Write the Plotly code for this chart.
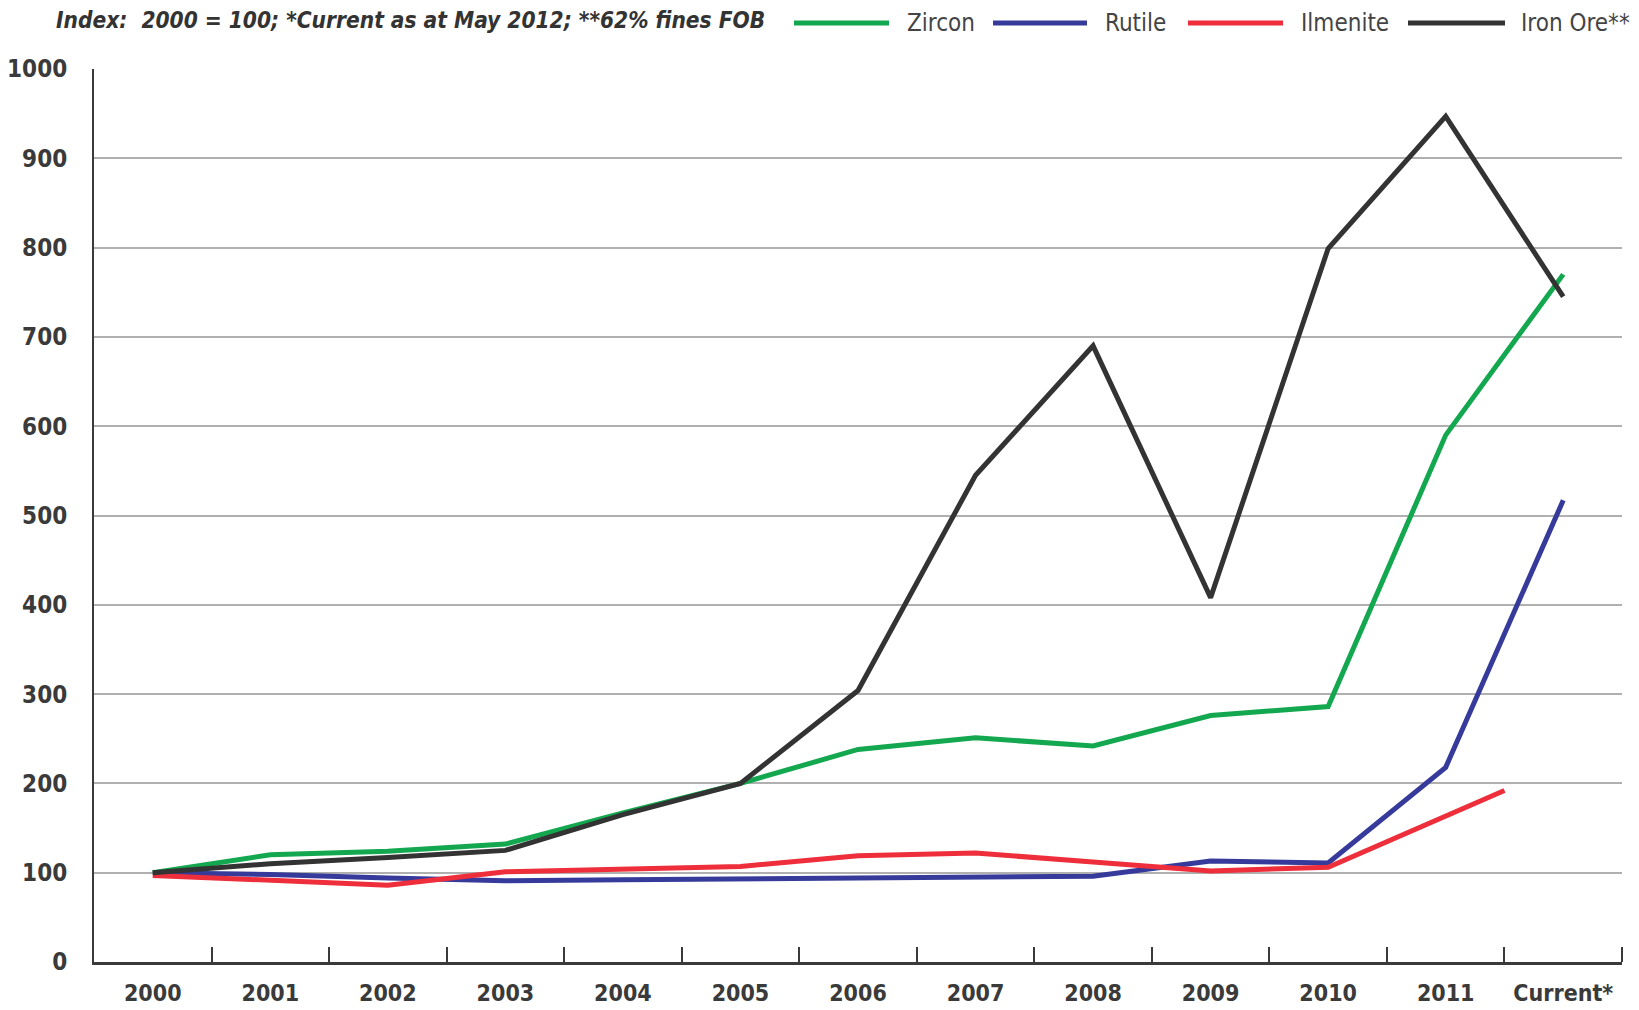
import plotly.graph_objects as go

categories = ["2000", "2001", "2002", "2003", "2004", "2005", "2006",
              "2007", "2008", "2009", "2010", "2011", "Current*"]
cat_pos = list(range(len(categories)))

zircon = [100, 120, 124, 132, 167, 200, 238, 251, 242, 276, 286, 590, 770]
rutile = [100, 98, 94, 91, 92, 93, 94, 95, 96, 113, 111, 218, 517]
ilmenite = [97, 91, 86, 101, 104, 107, 119, 122, 112, 102, 106, 164, 192]
ilmenite_x = [0, 1, 2, 3, 4, 5, 6, 7, 8, 9, 10, 11, 11.5]
iron_ore = [100, 110, 117, 125, 165, 200, 304, 545, 690, 408, 799, 947, 745]

y_ticks = [0, 100, 200, 300, 400, 500, 600, 700, 800, 900, 1000]

colors = {
    "Zircon": "#13A84F",
    "Rutile": "#363B9B",
    "Ilmenite": "#EE2E3A",
    "Iron Ore**": "#333333",
}

FONT = "DejaVu Sans Condensed, Liberation Sans, Arial, sans-serif"

fig = go.Figure()
series = [
    ("Rutile", cat_pos, rutile),
    ("Ilmenite", ilmenite_x, ilmenite),
    ("Zircon", cat_pos, zircon),
    ("Iron Ore**", cat_pos, iron_ore),
]
for name, xs, ys in series:
    fig.add_trace(go.Scatter(
        x=xs, y=ys, mode="lines", name=name, showlegend=False,
        line=dict(color=colors[name], width=5),
    ))

# page body has an 8px margin; compensate so the picture lines up
OFF = 8
W, H = 1639 - OFF, 1010 - OFF
L, R, T, B = 94 - OFF, 17, 69 - OFF, 48
pw, ph = W - L - R, H - T - B

def px(xf):
    return (xf - OFF - L) / pw

def py(yf):
    return 1 + (T - (yf - OFF)) / ph

# Manual legend
legend_items = [
    ("Zircon", 794, 889, 905),
    ("Rutile", 993, 1087, 1103),
    ("Ilmenite", 1188, 1283, 1299),
    ("Iron Ore**", 1408, 1505, 1519),
]
shapes = []
annotations = []
ly = py(23)
for name, x0, x1, xt in legend_items:
    shapes.append(dict(type="line", xref="paper", yref="paper",
                       x0=px(x0), x1=px(x1), y0=ly, y1=ly,
                       line=dict(color=colors[name], width=5)))
    annotations.append(dict(text=name, xref="paper", yref="paper",
                            x=px(xt), y=ly, xanchor="left", yanchor="middle",
                            showarrow=False,
                            font=dict(family=FONT, size=24, color="#444444")))

annotations.append(dict(
    text="<b><i>Index:  2000 = 100; *Current as at May 2012; **62% fines FOB</i></b>",
    xref="paper", yref="paper", x=px(54), y=py(20),
    xanchor="left", yanchor="middle", showarrow=False,
    font=dict(family=FONT, size=22.5, color="#333333")))

fig.update_layout(
    width=W, height=H,
    margin=dict(l=L, r=R, t=T, b=B, autoexpand=False),
    paper_bgcolor="white", plot_bgcolor="white",
    shapes=shapes, annotations=annotations,
    showlegend=False,
)
fig.update_xaxes(
    range=[-0.5, len(categories) - 0.5], automargin=False,
    tickmode="array", tickvals=cat_pos, ticktext=[f"<b>{c}</b>" for c in categories],
    showgrid=False, zeroline=False,
    showline=True, linecolor="#3a3a3a", linewidth=3,
    ticks="", tickfont=dict(family=FONT, size=23, color="#3a3a3a"),
    ticklabelstandoff=8,
)
# boundary tick marks via minor ticks
fig.update_xaxes(minor=dict(tickmode="array",
                            tickvals=[p + 0.5 for p in cat_pos],
                            ticks="inside", ticklen=15, tickwidth=2,
                            tickcolor="#3a3a3a", showgrid=False))
fig.update_yaxes(
    range=[0, 1000], automargin=False, tickmode="array", tickvals=y_ticks,
    ticktext=[f"<b>{v}</b>" for v in y_ticks],
    showgrid=True, gridcolor="#b0b0b0", gridwidth=2,
    zeroline=False, showline=True, linecolor="#3a3a3a", linewidth=2,
    ticks="", tickfont=dict(family=FONT, size=24, color="#3a3a3a"),
    ticklabelstandoff=20,
)

fig.write_html("out.html")
